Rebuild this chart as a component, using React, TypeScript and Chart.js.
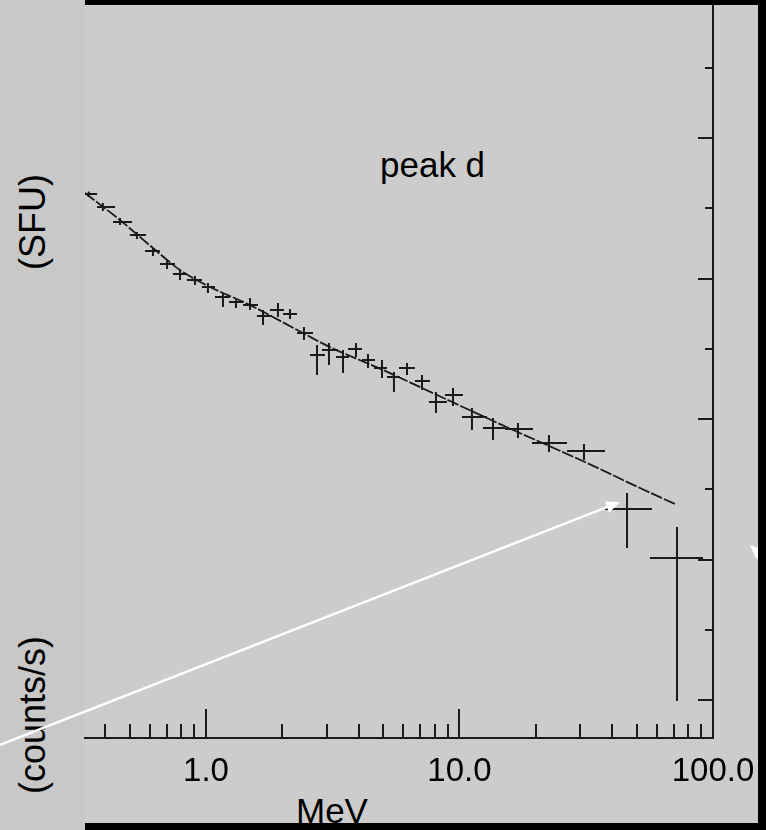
import React, { useEffect, useRef } from "react";
import { Chart, registerables } from "chart.js";

Chart.register(...registerables);

// ---- data (energy in MeV, flux in axis units) ----
const energy = [0.345, 0.392, 0.458, 0.534, 0.618, 0.702, 0.79, 0.905, 1.018, 1.167, 1.313, 1.492, 1.679, 1.923, 2.145, 2.435, 2.741, 3.056, 3.471, 3.906, 4.356, 4.947, 5.514, 6.208, 7.114, 8.077, 9.428, 11.2, 13.56, 17.01, 22.54, 30.98, 45.8, 72.11];
const energyLow = [0.325, 0.372, 0.43, 0.501, 0.575, 0.658, 0.741, 0.841, 0.964, 1.085, 1.232, 1.4, 1.589, 1.788, 2.013, 2.286, 2.572, 2.869, 3.257, 3.633, 4.125, 4.599, 5.176, 5.772, 6.675, 7.58, 8.766, 10.23, 12.38, 15.11, 19.32, 26.55, 37.5, 56.42];
const energyHigh = [0.372, 0.438, 0.511, 0.58, 0.658, 0.755, 0.841, 0.964, 1.085, 1.244, 1.4, 1.604, 1.821, 2.031, 2.286, 2.643, 2.947, 3.317, 3.666, 4.125, 4.642, 5.176, 5.825, 6.675, 7.648, 8.927, 10.32, 12.84, 15.11, 19.5, 26.55, 37.5, 57.46, 91.33];
const flux = [3.601, 3.509, 3.402, 3.31, 3.196, 3.103, 3.032, 2.989, 2.94, 2.868, 2.833, 2.811, 2.733, 2.776, 2.747, 2.612, 2.456, 2.491, 2.441, 2.498, 2.42, 2.363, 2.299, 2.363, 2.27, 2.121, 2.171, 2.014, 1.936, 1.929, 1.829, 1.772, 1.359, 1.011];
const fluxLow = [3.58, 3.48, 3.381, 3.281, 3.16, 3.068, 2.989, 2.954, 2.897, 2.797, 2.79, 2.776, 2.669, 2.726, 2.712, 2.562, 2.313, 2.384, 2.327, 2.441, 2.363, 2.292, 2.192, 2.313, 2.206, 2.043, 2.093, 1.922, 1.851, 1.865, 1.765, 1.708, 1.082, -0.007];
const fluxHigh = [3.62, 3.537, 3.431, 3.331, 3.217, 3.132, 3.06, 3.018, 2.968, 2.897, 2.861, 2.861, 2.776, 2.826, 2.783, 2.655, 2.527, 2.541, 2.491, 2.541, 2.463, 2.42, 2.335, 2.399, 2.313, 2.192, 2.221, 2.078, 2.007, 1.972, 1.886, 1.822, 1.473, 1.231];

// fitted model curve
const fitEnergy = [0.333, 0.458, 0.618, 0.79, 1.018, 1.492, 2.413, 3.084, 4.992, 9.175, 16.26, 22.14, 31.84, 51.52, 70.81];
const fitFlux = [3.609, 3.416, 3.217, 3.06, 2.947, 2.811, 2.612, 2.512, 2.349, 2.128, 1.922, 1.815, 1.687, 1.509, 1.395];

// axes
const xMin = 0.3333;
const xMax = 100;
const yMin = -0.2705;
const yMax = 4.947;
const xLabelValues = [1, 10, 100];
const xMajorTicks = [1, 10];
const xMinorTicks = [0.4, 0.5, 0.6, 0.7, 0.8, 0.9, 2, 3, 4, 5, 6, 7, 8, 9, 20, 30, 40, 50, 60, 70, 80, 90];
const yMajorTicks = [0, 1, 2, 3, 4];
const yMinorTicks = [0.5, 1.5, 2.5, 3.5, 4.5];

// annotation arrows (tail -> tip, in data units)
const arrowTailX = [0.154, 175.7];
const arrowTailY = [-0.32, 0.94];
const arrowTipX = [42.97, 139.9];
const arrowTipY = [1.409, 1.103];

const FONT = "'Liberation Sans', Arial, Helvetica, sans-serif";
const INK = "#1a1a1a";

export default function App() {
  const ref = useRef<HTMLCanvasElement>(null);

  useEffect(() => {
    const canvas = ref.current;
    if (!canvas) return;

    const errorBars = {
      id: "errorBars",
      afterDatasetsDraw(chart: any) {
        const { ctx, chartArea, scales } = chart;
        const xs = scales.x;
        const ys = scales.y;
        ctx.save();
        ctx.beginPath();
        ctx.rect(chartArea.left, chartArea.top, chartArea.right - chartArea.left, chartArea.bottom - chartArea.top);
        ctx.clip();
        ctx.strokeStyle = INK;
        ctx.lineWidth = 2;
        for (let i = 0; i < energy.length; i++) {
          const px = xs.getPixelForValue(energy[i]);
          const py = ys.getPixelForValue(flux[i]);
          ctx.beginPath();
          ctx.moveTo(xs.getPixelForValue(energyLow[i]), py);
          ctx.lineTo(xs.getPixelForValue(energyHigh[i]), py);
          ctx.moveTo(px, ys.getPixelForValue(fluxHigh[i]));
          ctx.lineTo(px, ys.getPixelForValue(fluxLow[i]));
          ctx.stroke();
        }
        ctx.restore();
      },
    };

    const innerTicks = {
      id: "innerTicks",
      afterDraw(chart: any) {
        const { ctx, chartArea, scales } = chart;
        const xs = scales.x;
        const ys = scales.y;
        ctx.save();
        ctx.strokeStyle = INK;
        ctx.lineWidth = 2;
        ctx.beginPath();
        const b = chartArea.bottom;
        const r = chartArea.right;
        xMinorTicks.forEach((v) => {
          const p = Math.round(xs.getPixelForValue(v));
          ctx.moveTo(p, b);
          ctx.lineTo(p, b - 14);
        });
        xMajorTicks.forEach((v) => {
          const p = Math.round(xs.getPixelForValue(v));
          ctx.moveTo(p, b);
          ctx.lineTo(p, b - 29);
        });
        yMajorTicks.forEach((v) => {
          const p = Math.round(ys.getPixelForValue(v));
          ctx.moveTo(r, p);
          ctx.lineTo(r - 15, p);
        });
        yMinorTicks.forEach((v) => {
          const p = Math.round(ys.getPixelForValue(v));
          ctx.moveTo(r, p);
          ctx.lineTo(r - 8, p);
        });
        ctx.stroke();
        ctx.restore();
      },
    };

    const arrows = {
      id: "arrows",
      afterDraw(chart: any) {
        const { ctx, scales } = chart;
        const xs = scales.x;
        const ys = scales.y;
        ctx.save();
        ctx.strokeStyle = "#ffffff";
        ctx.fillStyle = "#ffffff";
        ctx.lineWidth = 2.5;
        for (let i = 0; i < arrowTipX.length; i++) {
          const x0 = xs.getPixelForValue(arrowTailX[i]);
          const y0 = ys.getPixelForValue(arrowTailY[i]);
          const x1 = xs.getPixelForValue(arrowTipX[i]);
          const y1 = ys.getPixelForValue(arrowTipY[i]);
          const ang = Math.atan2(y1 - y0, x1 - x0);
          const hl = 14;
          const hw = 6;
          const bx = x1 - hl * Math.cos(ang);
          const by = y1 - hl * Math.sin(ang);
          ctx.beginPath();
          ctx.moveTo(x0, y0);
          ctx.lineTo(bx, by);
          ctx.stroke();
          ctx.beginPath();
          ctx.moveTo(x1, y1);
          ctx.lineTo(bx + hw * Math.sin(ang), by - hw * Math.cos(ang));
          ctx.lineTo(bx - hw * Math.sin(ang), by + hw * Math.cos(ang));
          ctx.closePath();
          ctx.fill();
        }
        ctx.restore();
      },
    };

    const chart = new Chart(canvas, {
      type: "scatter",
      data: {
        datasets: [
          {
            label: "fit",
            data: fitEnergy.map((e, i) => ({ x: e, y: fitFlux[i] })),
            showLine: true,
            borderColor: INK,
            borderWidth: 1.8,
            borderDash: [12, 2],
            pointRadius: 0,
            cubicInterpolationMode: "monotone",
          } as any,
          {
            label: "peak d",
            data: energy.map((e, i) => ({ x: e, y: flux[i] })),
            pointRadius: 0,
            showLine: false,
          },
        ],
      },
      options: {
        responsive: false,
        animation: false,
        devicePixelRatio: 1,
        layout: { padding: { left: 85, top: 5, right: 0, bottom: 0 } },
        plugins: { legend: { display: false }, tooltip: { enabled: false } },
        scales: {
          x: {
            type: "logarithmic",
            position: "bottom",
            bounds: "data",
            min: xMin,
            max: xMax,
            afterBuildTicks: (s: any) => {
              s.ticks = xLabelValues.map((v) => ({ value: v }));
            },
            afterFit: (s: any) => {
              s.height = 92;
            },
            ticks: {
              autoSkip: false,
              maxRotation: 0,
              padding: 0,
              color: "#000",
              font: { family: FONT, size: 33 },
              callback: (v: any) => Number(v).toFixed(1),
            },
            grid: {
              display: true,
              drawOnChartArea: false,
              drawTicks: true,
              tickLength: 14,
              tickColor: "rgba(0,0,0,0)",
              color: "rgba(0,0,0,0)",
            },
            border: { display: true, color: INK, width: 2 },
          } as any,
          y: {
            type: "linear",
            position: "right",
            bounds: "data",
            min: yMin,
            max: yMax,
            afterFit: (s: any) => {
              s.width = 53;
            },
            ticks: { display: false },
            grid: { display: false, drawTicks: false },
            border: { display: true, color: INK, width: 2 },
          } as any,
        },
      },
      plugins: [errorBars, innerTicks, arrows],
    });

    return () => chart.destroy();
  }, []);

  const textBase: React.CSSProperties = {
    position: "absolute",
    fontFamily: FONT,
    color: "#000",
    lineHeight: 1,
    whiteSpace: "nowrap",
  };

  return (
    <div
      style={{
        position: "fixed",
        left: 0,
        top: 0,
        width: 766,
        height: 830,
        overflow: "hidden",
        background: "#cccccc",
      }}
    >
      <div style={{ position: "absolute", left: 0, top: 0, width: 85, height: 830, background: "#c8c8c8" }} />
      <div style={{ ...textBase, fontSize: 36, left: 33, top: 222, transform: "translate(-50%, -50%) rotate(-90deg)" }}>(SFU)</div>
      <div style={{ ...textBase, fontSize: 36, left: 33, top: 715, transform: "translate(-50%, -50%) rotate(-90deg)" }}>(counts/s)</div>
      <div style={{ ...textBase, fontSize: 35, left: 380, top: 147 }}>peak d</div>
      <div style={{ ...textBase, fontSize: 35, left: 296, top: 793 }}>MeV</div>
      <canvas ref={ref} width={766} height={830} style={{ position: "absolute", left: 0, top: 0, width: 766, height: 830 }} />
      <div style={{ position: "absolute", left: 85, top: 0, width: 681, height: 5, background: "#000" }} />
      <div style={{ position: "absolute", left: 758, top: 0, width: 8, height: 830, background: "#000" }} />
      <div style={{ position: "absolute", left: 85, top: 823, width: 681, height: 7, background: "#000" }} />
    </div>
  );
}
